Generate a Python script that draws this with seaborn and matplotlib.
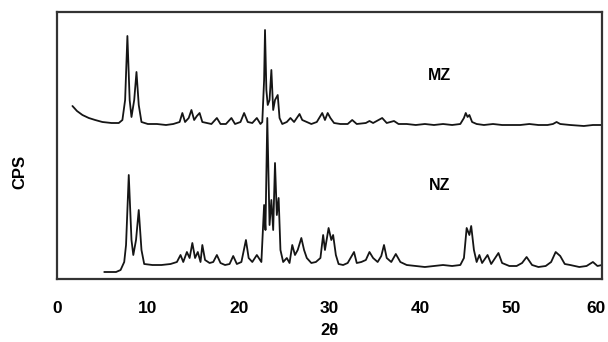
import numpy as np
import pandas as pd
import matplotlib
matplotlib.use("Agg")
import matplotlib.pyplot as plt
import matplotlib.transforms as mtransforms
import seaborn as sns

# ---- data (2-theta, relative CPS) ----
mz_2theta = [1.7, 2.2, 2.8, 3.5, 4.2, 5.0, 6.0, 6.8, 7.2, 7.5, 7.75, 8.0, 8.2, 8.5, 8.75, 9.0, 9.3,
             10.0, 11.0, 12.0, 12.8, 13.5, 13.8, 14.1, 14.5, 14.8, 15.1, 15.4, 15.7, 16.0, 16.5,
             17.0, 17.6, 18.0, 18.6, 19.2, 19.6, 20.2, 20.6, 21.0, 21.5, 22.0, 22.4, 22.6, 22.8,
             22.9, 23.05, 23.2, 23.4, 23.6, 23.8, 24.0, 24.3, 24.5, 24.8, 25.3, 25.7, 26.1, 26.7,
             27.0, 27.5, 28.0, 28.6, 29.2, 29.5, 29.8, 30.1, 30.5, 31.2, 32.0, 32.5, 33.0, 34.0,
             34.4, 34.8, 35.8, 36.3, 37.1, 37.6, 38.5, 39.5, 40.5, 41.5, 42.5, 43.5, 44.4, 44.8,
             45.0, 45.2, 45.4, 45.7, 46.2, 47.0, 48.0, 49.0, 50.0, 51.0, 52.0, 53.0, 54.0, 54.6,
             55.0, 55.4, 56.5, 58.0, 59.0, 60.0]
mz_cps = [173, 168, 164, 161, 159, 157, 156, 156, 159, 179, 243, 179, 162, 179, 207, 174, 157,
          155, 155, 154, 155, 157, 166, 157, 161, 169, 159, 163, 166, 157, 156,
          155, 161, 155, 155, 161, 155, 157, 166, 157, 156, 161, 155, 157, 199,
          249, 189, 174, 179, 209, 169, 179, 184, 161, 155, 157, 161, 157, 165,
          159, 157, 155, 157, 166, 159, 166, 161, 156, 155, 155, 159, 155, 156,
          158, 156, 161, 156, 158, 155, 155, 154, 155, 154, 155, 154, 155, 161,
          166, 162, 164, 157, 155, 154, 155, 154, 154, 154, 155, 154, 154, 155,
          157, 155, 154, 153, 154, 154]

nz_2theta = [5.2, 6.5, 7.0, 7.4, 7.6, 7.9, 8.2, 8.4, 8.7, 9.0, 9.3, 9.6, 10.5, 11.5, 12.5, 13.2,
             13.6, 13.9, 14.3, 14.6, 14.9, 15.2, 15.5, 15.8, 16.0, 16.3, 16.8, 17.2, 17.6, 18.0,
             18.5, 19.0, 19.4, 19.8, 20.3, 20.8, 21.1, 21.5, 22.0, 22.5, 22.8, 22.95, 23.15, 23.4,
             23.6, 23.8, 24.0, 24.2, 24.4, 24.6, 24.9, 25.3, 25.6, 25.9, 26.2, 26.5, 26.9, 27.2,
             27.5, 28.0, 28.5, 29.0, 29.3, 29.5, 29.9, 30.2, 30.4, 30.7, 31.0, 31.5, 32.0, 32.7,
             33.0, 33.5, 34.0, 34.4, 34.8, 35.3, 35.7, 36.0, 36.3, 36.8, 37.3, 37.8, 38.5, 39.5,
             40.5, 41.5, 42.5, 43.5, 44.4, 44.8, 45.1, 45.4, 45.6, 45.9, 46.2, 46.5, 46.8, 47.4,
             47.8, 48.6, 49.0, 49.8, 50.6, 51.2, 51.7, 52.3, 53.0, 53.8, 54.4, 54.9, 55.4, 55.9,
             56.5, 57.5, 58.3, 59.0, 59.5, 60.0]
nz_cps = [7, 7, 9, 17, 34, 104, 39, 24, 39, 69, 29, 15, 14, 14, 15, 17,
          24, 17, 27, 21, 36, 21, 27, 17, 34, 19, 16, 17, 24, 16,
          14, 15, 23, 15, 17, 39, 21, 17, 24, 17, 74, 49, 161, 54,
          79, 49, 116, 64, 81, 29, 17, 21, 16, 34, 24, 29, 41, 29,
          21, 16, 17, 21, 44, 29, 51, 39, 44, 24, 15, 14, 16, 27,
          16, 17, 19, 27, 21, 17, 23, 34, 21, 17, 25, 17, 14, 13,
          12, 13, 14, 13, 14, 21, 51, 44, 53, 29, 17, 24, 16, 24,
          15, 26, 16, 13, 13, 16, 22, 14, 12, 13, 17, 27, 23, 15,
          14, 12, 13, 17, 13, 14]

x_ticks = [0, 10, 20, 30, 40, 50, 60]
series_labels = ["MZ", "NZ"]

mz = pd.DataFrame({"theta": mz_2theta, "cps": mz_cps})
nz = pd.DataFrame({"theta": nz_2theta, "cps": nz_cps})

sns.set_theme(style="white")
plt.rcParams["font.family"] = ["Liberation Sans", "DejaVu Sans"]
plt.rcParams["text.color"] = "black"

fig = plt.figure(figsize=(6.08, 3.42), dpi=100)
ax = fig.add_axes([57 / 608, 1 - 279 / 342, (602 - 57) / 608, (279 - 12) / 342])

line_kw = dict(color="#151515", linewidth=1.3, estimator=None, legend=False)
sns.lineplot(data=nz, x="theta", y="cps", ax=ax, **line_kw)
sns.lineplot(data=mz, x="theta", y="cps", ax=ax, **line_kw)

ax.set_xlim(0, 60)
ax.set_ylim(0, 267)
ax.set_yticks([])
ax.set_xticks(x_ticks)
ax.set_xticklabels([str(t) for t in x_ticks], fontsize=12.5, fontweight="bold", color="black")
ax.tick_params(axis="x", direction="out", length=3, width=1, pad=13, color="#333333")
# nudge the last label so it stays inside the figure, as in the reference
last = ax.get_xticklabels()[-1]
last.set_transform(last.get_transform() +
                   mtransforms.ScaledTranslation(-6 / 100, 0, fig.dpi_scale_trans))
ax.set_ylabel("")
ax.set_xlabel("2θ", fontsize=12, fontweight="bold", labelpad=5, color="black")

for sp in ax.spines.values():
    sp.set_visible(True)
    sp.set_color("#333333")
    sp.set_linewidth(1.6)

ax.text(42.1, 204, series_labels[0], fontsize=11.5, fontweight="bold", ha="center", va="center",
        color="black")
ax.text(42.1, 94, series_labels[1], fontsize=11.5, fontweight="bold", ha="center", va="center",
        color="black")

fig.text(20 / 608, 1 - 172 / 342, "CPS", rotation=90, fontsize=12, fontweight="bold",
         ha="center", va="center", color="black")

fig.savefig("out.png", dpi=100)
